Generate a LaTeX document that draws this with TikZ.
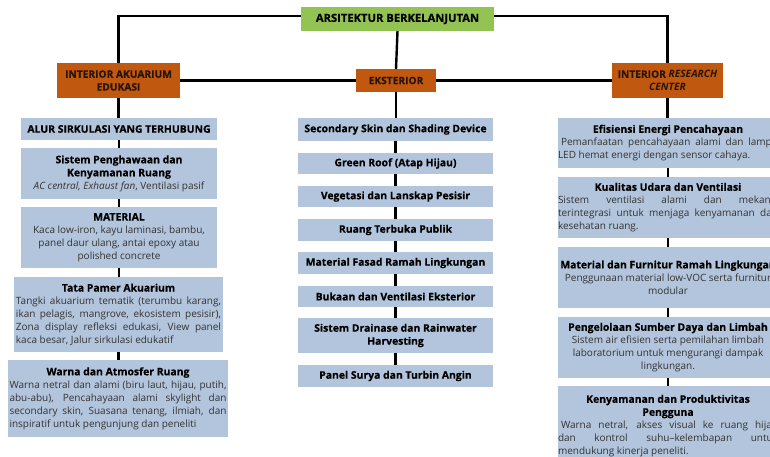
\documentclass[tikz,border=0pt]{standalone}
\usepackage{fontspec}
\setmainfont{Open Sans}[BoldFeatures={FakeBold=0.5}]
\definecolor{bluebg}{HTML}{B3C5DC}
\definecolor{greenbg}{HTML}{92C353}
\definecolor{brownbg}{HTML}{C0580F}
\definecolor{brownfg}{HTML}{2A1505}
\definecolor{bodytxt}{HTML}{333333}
\newcommand\ttl[1]{{\centering\fontsize{10.4}{13}\selectfont\bfseries\color{black}#1\par}}
\newcommand\tb[1]{{\fontsize{10.4}{13}\selectfont\bfseries\color{black}#1}}
\tikzset{
  base/.style={inner sep=0pt, outer sep=0pt, align=center, anchor=center},
  bluebox/.style={base, fill=bluebg, text=bodytxt, font=\fontsize{10}{13}\selectfont},
  btitle/.style={bluebox, text=black, font=\fontsize{10.4}{13}\selectfont\bfseries},
  brownbox/.style={base, fill=brownbg, text=brownfg, font=\fontsize{10.2}{12.8}\selectfont\bfseries},
  greenbox/.style={base, fill=greenbg, text=black, font=\fontsize{11.2}{13}\selectfont\bfseries},
  link/.style={line width=2.4pt, black},
}
\begin{document}
\begin{tikzpicture}[x=1pt,y=-1pt]
\useasboundingbox (0,0) rectangle (770,456);
\clip (0,0) rectangle (770,456);
\fill[white] (0,0) rectangle (770,456);

% top level
\node[greenbox, minimum width=193, minimum height=24] (arch) at (397.5,19) {ARSITEKTUR BERKELANJUTAN};
\node[brownbox, minimum width=123, minimum height=35] (lbr) at (118.5,80.5) {INTERIOR AKUARIUM\\EDUKASI};
\node[brownbox, minimum width=80, minimum height=23] (ext) at (396,80.5) {EKSTERIOR};
\node[brownbox, minimum width=111, minimum height=35] (rbr) at (667.5,80.5) {INTERIOR \textit{RESEARCH}\\\textit{CENTER}};

% left column
\node[btitle, minimum width=196, minimum height=22] (l1) at (119,129) {ALUR SIRKULASI YANG TERHUBUNG};
\node[bluebox, minimum width=196, minimum height=51] (l2) at (119,173.5)
  {\tb{Sistem Penghawaan dan}\\\tb{Kenyamanan Ruang}\\\textit{AC central, Exhaust fan}, Ventilasi pasif};
\node[bluebox, minimum width=196, minimum height=61] (l3) at (119,237.5)
  {\tb{MATERIAL}\\Kaca low-iron, kayu laminasi, bambu,\\panel daur ulang, antai epoxy atau\\polished concrete};
\node[bluebox, minimum width=209, minimum height=75, text width=205, align=justify] (l4) at (118.5,314.5)
  {\ttl{Tata Pamer Akuarium}Tangki akuarium tematik (terumbu karang,\linebreak ikan pelagis, mangrove, ekosistem pesisir),\linebreak Zona display refleksi edukasi, View panel\linebreak kaca besar, Jalur sirkulasi edukatif};
\node[bluebox, minimum width=220, minimum height=77, text width=217, align=justify] (l5) at (118,398.5)
  {\ttl{Warna dan Atmosfer Ruang}Warna netral dan alami (biru laut, hijau, putih,\linebreak abu-abu), Pencahayaan alami skylight dan\linebreak secondary skin, Suasana tenang, ilmiah, dan\linebreak inspiratif untuk pengunjung dan peneliti};

% center column
\node[btitle, minimum width=195, minimum height=23] (c1) at (395.5,129.5) {Secondary Skin dan Shading Device};
\node[btitle, minimum width=195, minimum height=21] (c2) at (395.5,163.5) {Green Roof (Atap Hijau)};
\node[btitle, minimum width=195, minimum height=21] (c3) at (395.5,196.5) {Vegetasi dan Lanskap Pesisir};
\node[btitle, minimum width=195, minimum height=22] (c4) at (395.5,230) {Ruang Terbuka Publik};
\node[btitle, minimum width=195, minimum height=22] (c5) at (395.5,263) {Material Fasad Ramah Lingkungan};
\node[btitle, minimum width=195, minimum height=21] (c6) at (395.5,296.5) {Bukaan dan Ventilasi Eksterior};
\node[btitle, minimum width=195, minimum height=35] (c7) at (395.5,335.5) {Sistem Drainase dan Rainwater\\Harvesting};
\node[btitle, minimum width=195, minimum height=22] (c8) at (395.5,376) {Panel Surya dan Turbin Angin};

% right column
\node[bluebox, minimum width=220, minimum height=50, text width=220, align=justify] (r1) at (668,143)
  {\ttl{Efisiensi Energi Pencahayaan}\hspace*{3pt}Pemanfaatan pencahayaan alami dan lampu\linebreak LED hemat energi dengan sensor cahaya.};
\node[bluebox, minimum width=220, minimum height=61, text width=220, align=justify] (r2) at (668,207.5)
  {\ttl{Kualitas Udara dan Ventilasi}Sistem ventilasi alami dan mekanis\linebreak terintegrasi untuk menjaga kenyamanan dan\linebreak kesehatan ruang.};
\node[bluebox, minimum width=220, minimum height=61] (r3) at (668,277.5)
  {\tb{Material dan Furnitur Ramah Lingkungan}\\Penggunaan material low-VOC serta furnitur\\modular};
\node[bluebox, minimum width=220, minimum height=61] (r4) at (668,347.5)
  {\tb{Pengelolaan Sumber Daya dan Limbah}\\Sistem air efisien serta pemilahan limbah\\laboratorium untuk mengurangi dampak\\lingkungan.};
\node[bluebox, minimum width=220, minimum height=80, text width=220, align=justify] (r5) at (668,426)
  {\ttl{Kenyamanan dan Produktivitas\\Pengguna}\hspace*{3pt}Warna netral, akses visual ke ruang hijau\linebreak dan kontrol suhu--kelembapan untuk\linebreak mendukung kinerja peneliti.};

% connectors
\draw[link] ([yshift=3pt]arch.west) -| (lbr.north);
\draw[link] ([yshift=3pt]arch.east) -| (rbr.north);
\draw[link] (arch.south) -- (ext.north);
\draw[link] (lbr.east) -- (ext.west);
\draw[link] (ext.east) -- (rbr.west);
\draw[link] (lbr.south) -- (lbr.south |- l1.north);
\draw[link] (ext.south) -- (ext.south |- c1.north);
\draw[link] (rbr.south) -- (rbr.south |- r1.north);
\foreach \a/\b in {l1/l2,l2/l3,l3/l4,l4/l5,c1/c2,c2/c3,c3/c4,c4/c5,c5/c6,c6/c7,c7/c8,r1/r2,r2/r3,r3/r4,r4/r5}
  \draw[link] (\a.south) -- (\a.south |- \b.north);
\end{tikzpicture}
\end{document}
